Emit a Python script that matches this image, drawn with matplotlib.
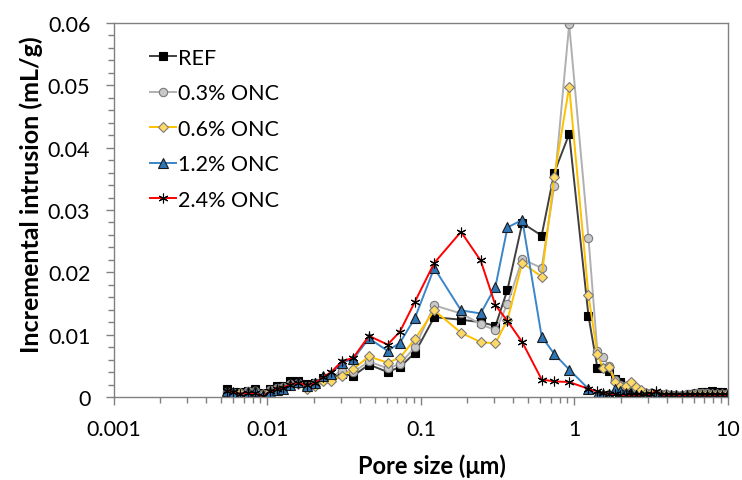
import matplotlib
matplotlib.use("Agg")
import matplotlib.pyplot as plt
from matplotlib.ticker import LogLocator, MultipleLocator, FixedLocator, FixedFormatter, NullFormatter

plt.rcParams['font.family'] = ['Lato', 'DejaVu Sans']

# Pore sizes (µm) of the measurement steps
pore_size = [0.00547, 0.00599, 0.00662, 0.00750, 0.00829, 0.00939, 0.01038, 0.01148,
             0.01268, 0.01402, 0.01588, 0.01800, 0.02039, 0.02309, 0.02604, 0.03043,
             0.03622, 0.04583, 0.06067, 0.07298, 0.09140, 0.1220, 0.1823, 0.2448,
             0.3056, 0.3661, 0.4569, 0.6112, 0.7386, 0.9236, 1.2336,
             1.41, 1.53, 1.68, 1.84, 1.99, 2.17, 2.33, 2.52, 2.72, 2.93, 3.16, 3.41,
             3.68, 3.97, 4.28, 4.62, 4.98, 5.38, 5.80, 6.26, 6.75, 7.28, 7.86, 8.48,
             9.15, 9.87]

# Incremental intrusion (mL/g)
ref = [0.0013, 0.0008, 0.0008, 0.0009, 0.0013, 0.0006, 0.0013, 0.0017, 0.0017, 0.0025,
       0.0025, 0.0021, 0.0023, 0.0030, 0.0031, 0.0037, 0.0034, 0.0052, 0.0040, 0.0048,
       0.0071, 0.0128, 0.0124, 0.0120, 0.0114, 0.0172, 0.0279, 0.0259, 0.0360, 0.0422,
       0.0130,
       0.0047, 0.0046, 0.0042, 0.0029, 0.0024, 0.0016, 0.0013, 0.0008, 0.0006, 0.0004,
       0.0003, 0.0003, 0.0002, 0.0003, 0.0003, 0.0002, 0.0002, 0.0003, 0.0004, 0.0007,
       0.0008, 0.0008, 0.0009, 0.0008, 0.0008, 0.0007]

onc_03 = [0.0008, 0.0007, 0.0006, 0.0009, 0.0010, 0.0004, 0.0011, 0.0014, 0.0016, 0.0021,
          0.0022, 0.0018, 0.0022, 0.0028, 0.0032, 0.0042, 0.0040, 0.0057, 0.0046, 0.0053,
          0.0080, 0.0147, 0.0134, 0.0117, 0.0107, 0.0149, 0.0221, 0.0207, 0.0339, 0.0598,
          0.0255,
          0.0073, 0.0064, 0.0050, 0.0027, 0.0020, 0.0017, 0.0022, 0.0015, 0.0010, 0.0007,
          0.0006, 0.0005, 0.0004, 0.0004, 0.0003, 0.0003, 0.0003, 0.0004, 0.0005, 0.0006,
          0.0006, 0.0006, 0.0005, 0.0005, 0.0005, 0.0005]

onc_06 = [0.0003, 0.0006, 0.0007, 0.0008, 0.0010, 0.0004, 0.0010, 0.0013, 0.0015, 0.0020,
          0.0021, 0.0013, 0.0017, 0.0025, 0.0026, 0.0033, 0.0045, 0.0065, 0.0055, 0.0063,
          0.0093, 0.0139, 0.0103, 0.0088, 0.0086, 0.0124, 0.0215, 0.0193, 0.0353, 0.0498,
          0.0163,
          0.0069, 0.0046, 0.0048, 0.0024, 0.0018, 0.0017, 0.0024, 0.0016, 0.0011, 0.0007,
          0.0007, 0.0004, 0.0003, 0.0004, 0.0003, 0.0003, 0.0002, 0.0003, 0.0004, 0.0005,
          0.0005, 0.0004, 0.0004, 0.0005, 0.0004, 0.0004]

onc_12 = [0.0009, 0.0006, 0.0001, 0.0008, 0.0010, 0.0003, 0.0008, 0.0011, 0.0013, 0.0020,
          0.0024, 0.0018, 0.0022, 0.0033, 0.0037, 0.0055, 0.0061, 0.0094, 0.0074, 0.0087,
          0.0127, 0.0207, 0.0139, 0.0134, 0.0177, 0.0272, 0.0284, 0.0097, 0.0069, 0.0044,
          0.0013,
          0.0003, 0.0004, 0.0005, 0.0012, 0.0009, 0.0006, 0.0004, 0.0003, 0.0003, 0.0002,
          0.0002, 0.0003, 0.0002, 0.0002, 0.0001, 0.0001, 0.0002, 0.0002, 0.0002, 0.0002,
          0.0002, 0.0002, 0.0002, 0.0002, 0.0002, 0.0002]

onc_24 = [0.0010, 0.0008, 0.0005, 0.0007, 0.0006, 0.0001, 0.0009, 0.0012, 0.0015, 0.0020,
          0.0023, 0.0019, 0.0022, 0.0032, 0.0040, 0.0057, 0.0063, 0.0098, 0.0084, 0.0105,
          0.0153, 0.0215, 0.0265, 0.0219, 0.0147, 0.0122, 0.0088, 0.0028, 0.0025, 0.0024,
          0.0013,
          0.0009, 0.0006, 0.0005, 0.0004, 0.0003, 0.0003, 0.0003, 0.0003, 0.0003, 0.0004,
          0.0005, 0.0010, 0.0003, 0.0003, 0.0003, 0.0003, 0.0003, 0.0003, 0.0003, 0.0003,
          0.0003, 0.0003, 0.0003, 0.0003, 0.0003, 0.0003]

series_labels = ["REF", "0.3% ONC", "0.6% ONC", "1.2% ONC", "2.4% ONC"]
x_tick_values = [0.001, 0.01, 0.1, 1, 10]
x_tick_labels = ["0.001", "0.01", "0.1", "1", "10"]
y_tick_values = [0, 0.01, 0.02, 0.03, 0.04, 0.05, 0.06]
y_tick_labels = ["0", "0.01", "0.02", "0.03", "0.04", "0.05", "0.06"]

fig = plt.figure(figsize=(7.42, 4.81), dpi=100)
ax = fig.add_axes([0.1536, 0.1726, 0.8275, 0.7775])

styles = [
    dict(color="#404040", marker="s", mfc="black", mec="black", ms=6),
    dict(color="#b0b0b0", marker="o", mfc="#c8c8c8", mec="#7a7a7a", ms=6),
    dict(color="#ffc000", marker="D", mfc="#ffd966", mec="#7a7a7a", ms=5),
    dict(color="#3a86c8", marker="^", mfc="#2e75b6", mec="#1a1a1a", ms=7),
    dict(color="#ff0000", marker=(6, 2, 0), mfc="black", mec="black", ms=7),
]
all_series = [ref, onc_03, onc_06, onc_12, onc_24]

for vals, lab, st in zip(all_series, series_labels, styles):
    ax.plot(pore_size, vals, label=lab, lw=1.4, mew=0.8, **st)

ax.set_xscale("log")
ax.set_xlim(0.001, 10)
ax.set_ylim(0, 0.06)

ax.xaxis.set_major_locator(FixedLocator(x_tick_values))
ax.xaxis.set_major_formatter(FixedFormatter(x_tick_labels))
ax.xaxis.set_minor_locator(LogLocator(base=10, subs=range(2, 10), numticks=20))
ax.xaxis.set_minor_formatter(NullFormatter())
ax.yaxis.set_major_locator(FixedLocator(y_tick_values))
ax.yaxis.set_major_formatter(FixedFormatter(y_tick_labels))
ax.yaxis.set_minor_locator(MultipleLocator(0.002))

for sp in ax.spines.values():
    sp.set_color("#808080")
    sp.set_linewidth(1.0)
ax.tick_params(which="both", direction="out", colors="#808080", labelcolor="black",
               labelsize=15.5, top=False, right=False)
ax.tick_params(which="major", length=6, width=1.0)
ax.tick_params(which="minor", length=4, width=1.0)
ax.tick_params(axis="x", pad=10)
ax.tick_params(axis="y", pad=11)

ax.set_xlabel("Pore size (μm)", fontsize=17, fontweight="bold")
ax.set_ylabel("Incremental intrusion (mL/g)", fontsize=18, fontweight="bold")
ax.xaxis.set_label_coords(0.518, -0.152)
ax.yaxis.set_label_coords(-0.115, 0.543)

leg = ax.legend(loc="upper left", bbox_to_anchor=(0.045, 0.957), frameon=False,
                fontsize=15.5, handlelength=1.2, handletextpad=0.1, labelspacing=0.72,
                borderaxespad=0.0)

fig.savefig("out.png", dpi=100)
